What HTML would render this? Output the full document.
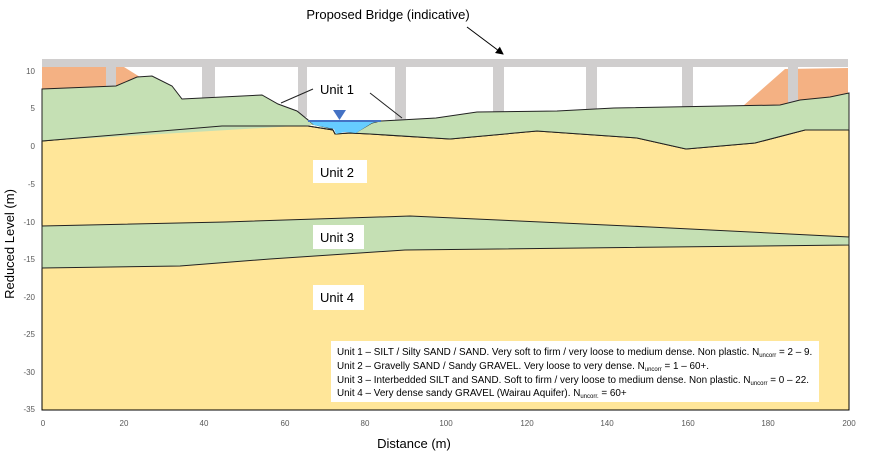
<!DOCTYPE html>
<html><head><meta charset="utf-8"><style>
body{margin:0;background:#fff;width:894px;height:462px;overflow:hidden;font-family:"Liberation Sans",sans-serif}
</style></head><body>
<svg width="894" height="462" viewBox="0 0 894 462" xmlns="http://www.w3.org/2000/svg" font-family="Liberation Sans, sans-serif">
<defs><marker id="ar" markerWidth="8" markerHeight="8" refX="7" refY="4" orient="auto"><path d="M0,0 L8,4 L0,8 z" fill="#000"/></marker></defs>
<polygon points="42,141 222,126 308,126 333,130 335,134 350,133 370,134 450,139 537,131 637,138 686,149 755,143 805,130 849,130 849,410 42,410" fill="#ffe699" stroke="#000" stroke-width="1"/>
<polygon points="42,226 225,222 410,216 650,227 849,237 849,245 405,250 270,259 180,266 42,268" fill="#c5e0b4" stroke="#222" stroke-width="1"/>
<polygon points="42,67 106,67 106,89 42,89" fill="#f4b183"/>
<polygon points="116,67 124,67 140,77 137,77 116,86" fill="#f4b183"/>
<polygon points="743,106 785,69 848,68 848,97 830,97 800,100 780,105" fill="#f4b183"/>
<g fill="#d0cece">
<rect x="42" y="59" width="806" height="8"/>
<rect x="106" y="67" width="10" height="20"/>
<rect x="202" y="67" width="13" height="32"/>
<rect x="298" y="67" width="9" height="50"/>
<rect x="395" y="67" width="11" height="53"/>
<rect x="493" y="67" width="11" height="46"/>
<rect x="586" y="67" width="11" height="43"/>
<rect x="682" y="67" width="11" height="41"/>
<rect x="788" y="67" width="10" height="36"/>
</g>
<polygon points="42,89 116,86 137,77 152,76 172,86 182,99 262,95 278,104 297,111 313,124 333,130 335,134 350,133 370,134 450,139 537,131 637,138 686,149 755,143 805,130 849,130 849,93 830,97 800,100 780,105 614,108 557,111 477,112 436,118 400,120 380,121 372,123 355,133 350,133 335,133 333,130 313,125 42,141" fill="#c5e0b4"/>
<polyline points="42,141 42,89 116,86 137,77 152,76 172,86 182,99 262,95 278,104 297,111 313,124 333,129" fill="none" stroke="#222" stroke-width="1"/>
<polyline points="355,133 372,123 380,121 400,120 436,118 477,112 557,111 614,108 780,105 800,100 830,97 849,93 849,130" fill="none" stroke="#222" stroke-width="1"/>
<polyline points="42,141 222,126 308,126 333,130 335,134 350,133 370,134 450,139 537,131 637,138 686,149 755,143 805,130 849,130" fill="none" stroke="#222" stroke-width="1"/>
<polygon points="309,121 380,121 372,123 356,133 345,132 336,134 334,129 314,125" fill="#66ccff"/>
<line x1="308" y1="121" x2="381" y2="121" stroke="#4472c4" stroke-width="2"/>
<polygon points="333,110 346,110 339.5,120" fill="#4472c4"/>
<text x="320" y="94" font-size="13">Unit 1</text>
<line x1="313" y1="89" x2="281" y2="103" stroke="#222"/>
<line x1="370" y1="93" x2="402" y2="118" stroke="#222"/>
<text x="388" y="19" font-size="13" text-anchor="middle">Proposed Bridge (indicative)</text>
<line x1="467" y1="27" x2="503" y2="54" stroke="#000" marker-end="url(#ar)"/>
<rect x="313" y="160" width="54" height="23" fill="#fff"/><text x="320" y="177" font-size="13">Unit 2</text>
<rect x="313" y="225" width="51" height="24" fill="#fff"/><text x="320" y="242" font-size="13">Unit 3</text>
<rect x="313" y="285" width="51" height="25" fill="#fff"/><text x="320" y="302" font-size="13">Unit 4</text>
<rect x="331" y="341" width="488" height="61" fill="#fff"/>
<g font-size="9.9">
<text x="337" y="355">Unit 1 – SILT / Silty SAND / SAND. Very soft to firm / very loose to medium dense. Non plastic. N<tspan font-size="6" dy="2">uncorr</tspan><tspan dy="-2"> = 2 – 9.</tspan></text>
<text x="337" y="369">Unit 2 – Gravelly SAND / Sandy GRAVEL. Very loose to very dense. N<tspan font-size="6" dy="2">uncorr</tspan><tspan dy="-2"> = 1 – 60+.</tspan></text>
<text x="337" y="383">Unit 3 – Interbedded SILT and SAND. Soft to firm / very loose to medium dense. Non plastic. N<tspan font-size="6" dy="2">uncorr</tspan><tspan dy="-2"> = 0 – 22.</tspan></text>
<text x="337" y="396">Unit 4 – Very dense sandy GRAVEL (Wairau Aquifer). N<tspan font-size="6" dy="2">uncorr.</tspan><tspan dy="-2"> = 60+</tspan></text>
</g>
<g font-size="8" fill="#595959" text-anchor="end">
<text x="35" y="74">10</text><text x="35" y="111">5</text><text x="35" y="149">0</text><text x="35" y="187">-5</text><text x="35" y="225">-10</text><text x="35" y="262">-15</text><text x="35" y="300">-20</text><text x="35" y="337">-25</text><text x="35" y="375">-30</text><text x="35" y="412">-35</text>
</g>
<g font-size="8" fill="#595959" text-anchor="middle">
<text x="43" y="426">0</text><text x="124" y="426">20</text><text x="204" y="426">40</text><text x="285" y="426">60</text><text x="365" y="426">80</text><text x="446" y="426">100</text><text x="527" y="426">120</text><text x="607" y="426">140</text><text x="688" y="426">160</text><text x="768" y="426">180</text><text x="849" y="426">200</text>
</g>
<text x="414" y="448" font-size="13" text-anchor="middle">Distance (m)</text>
<text transform="translate(14,244) rotate(-90)" font-size="13" text-anchor="middle">Reduced Level (m)</text>
</svg>
</body></html>
